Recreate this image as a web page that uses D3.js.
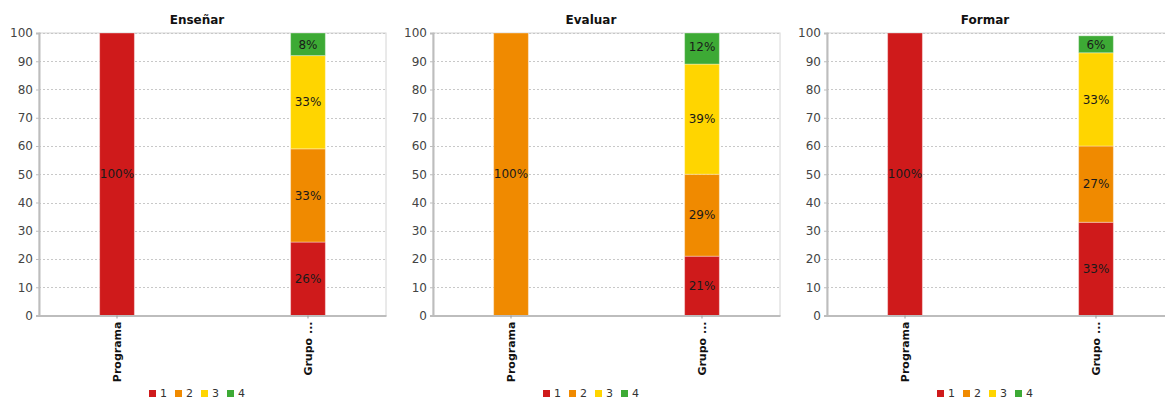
<!DOCTYPE html>
<html>
<head>
<meta charset="utf-8">
<script src="https://cdn.jsdelivr.net/npm/d3@7"></script>
<style>
    body { margin: 0; background: #fff; }
    svg { display: block; font-family: "DejaVu Sans", sans-serif; }
</style>
</head>
<body>
<svg id="chart" width="1165" height="400"></svg>
<script>
// chart data
const titles = ["Enseñar", "Evaluar", "Formar"];
const categories = ["Programa", "Grupo ..."];
const levels = ["1", "2", "3", "4"];
const colors = ["#cf1a1b", "#f08a00", "#ffd500", "#3daa35"];
const yTicks = [0, 10, 20, 30, 40, 50, 60, 70, 80, 90, 100];

// values per category, in level order 1..4
const ensenar = [[100, 0, 0, 0], [26, 33, 33, 8]];
const evaluar = [[0, 100, 0, 0], [21, 29, 39, 12]];
const formar = [[100, 0, 0, 0], [33, 27, 33, 6]];
const panels = [ensenar, evaluar, formar];

const svg = d3.select("#chart");
const panelWidth = 394;
const margin = { top: 33, left: 39, right: 8, bottom: 84.5 };
const height = 400;
const innerWidth = panelWidth - margin.left - margin.right;
const innerHeight = height - margin.top - margin.bottom;

const x = d3.scaleBand()
    .domain(categories)
    .range([0, innerWidth])
    .paddingInner(0.818)
    .paddingOuter(0.3175);

const y = d3.scaleLinear()
    .domain([0, 100])
    .range([innerHeight, 0]);

const color = d3.scaleOrdinal().domain(levels).range(colors);

panels.forEach((panel, p) => {
    const root = svg.append("g")
        .attr("transform", `translate(${p * panelWidth},0)`);

    // title
    root.append("text")
        .attr("x", panelWidth / 2)
        .attr("y", 24)
        .attr("text-anchor", "middle")
        .attr("font-size", 12)
        .attr("font-weight", "bold")
        .attr("fill", "#111")
        .text(titles[p]);

    const g = root.append("g")
        .attr("transform", `translate(${margin.left},${margin.top})`);

    // frame
    g.append("rect")
        .attr("width", innerWidth)
        .attr("height", innerHeight)
        .attr("fill", "none")
        .attr("stroke", "#d4d4d4");

    // gridlines
    g.append("g")
        .selectAll("line")
        .data(yTicks.slice(1))
        .enter()
        .append("line")
        .attr("x1", 0)
        .attr("x2", innerWidth)
        .attr("y1", d => Math.round(y(d)) + 0.5)
        .attr("y2", d => Math.round(y(d)) + 0.5)
        .attr("stroke", "#c8c8c8")
        .attr("stroke-dasharray", "2,2");

    // stacked bars
    const rows = categories.map((c, i) => {
        const row = { cat: c };
        levels.forEach((l, j) => row[l] = panel[i][j]);
        return row;
    });
    const stacked = d3.stack().keys(levels)(rows);

    stacked.forEach(layer => {
        const lg = g.append("g");
        lg.selectAll("rect")
            .data(layer.filter(d => d[1] - d[0] > 0))
            .enter()
            .append("rect")
            .attr("x", d => x(d.data.cat))
            .attr("width", x.bandwidth())
            .attr("y", d => y(Math.min(d[1], 100)))
            .attr("height", d => y(d[0]) - y(Math.min(d[1], 100)))
            .attr("fill", color(layer.key))
            .attr("stroke", "rgba(255,255,255,0.35)")
            .attr("stroke-width", 1);

        lg.selectAll("text")
            .data(layer.filter(d => d[1] - d[0] > 0))
            .enter()
            .append("text")
            .attr("x", d => x(d.data.cat) + x.bandwidth() / 2)
            .attr("y", d => y((d[0] + d[1]) / 2))
            .attr("dy", "0.35em")
            .attr("text-anchor", "middle")
            .attr("font-size", 12)
            .attr("fill", "#1a1a1a")
            .text(d => `${d[1] - d[0]}%`);
    });

    // y axis
    const yAxis = g.append("g")
        .call(d3.axisLeft(y).tickValues(yTicks).tickSize(3).tickPadding(3));
    yAxis.select(".domain").attr("stroke", "#bdbdbd").attr("stroke-width", 2);
    yAxis.selectAll(".tick line").attr("stroke", "#bdbdbd");
    yAxis.selectAll(".tick text")
        .attr("font-size", 12)
        .attr("fill", "#444")
        .attr("font-family", "DejaVu Sans");

    // x axis
    const xAxis = g.append("g")
        .attr("transform", `translate(0,${innerHeight})`)
        .call(d3.axisBottom(x).tickSize(3).tickSizeOuter(0));
    xAxis.select(".domain").attr("stroke", "#bdbdbd").attr("stroke-width", 2);
    xAxis.selectAll(".tick line").attr("stroke", "#999");
    xAxis.selectAll(".tick text")
        .attr("transform", "rotate(-90)")
        .attr("x", -6)
        .attr("y", 0)
        .attr("dy", "0.35em")
        .attr("text-anchor", "end")
        .attr("font-size", 11)
        .attr("font-weight", "bold")
        .attr("fill", "#111")
        .attr("font-family", "DejaVu Sans");

    // legend
    const itemWidth = 26;
    const legend = root.append("g")
        .attr("transform", `translate(${panelWidth / 2 - 48},390)`);
    const item = legend.selectAll("g")
        .data(levels)
        .enter()
        .append("g")
        .attr("transform", (d, i) => `translate(${i * itemWidth},0)`);
    item.append("rect")
        .attr("width", 7)
        .attr("height", 7)
        .attr("fill", d => color(d));
    item.append("text")
        .attr("x", 11)
        .attr("y", 7)
        .attr("font-size", 11)
        .attr("fill", "#333")
        .text(d => d);
});
</script>
</body>
</html>
